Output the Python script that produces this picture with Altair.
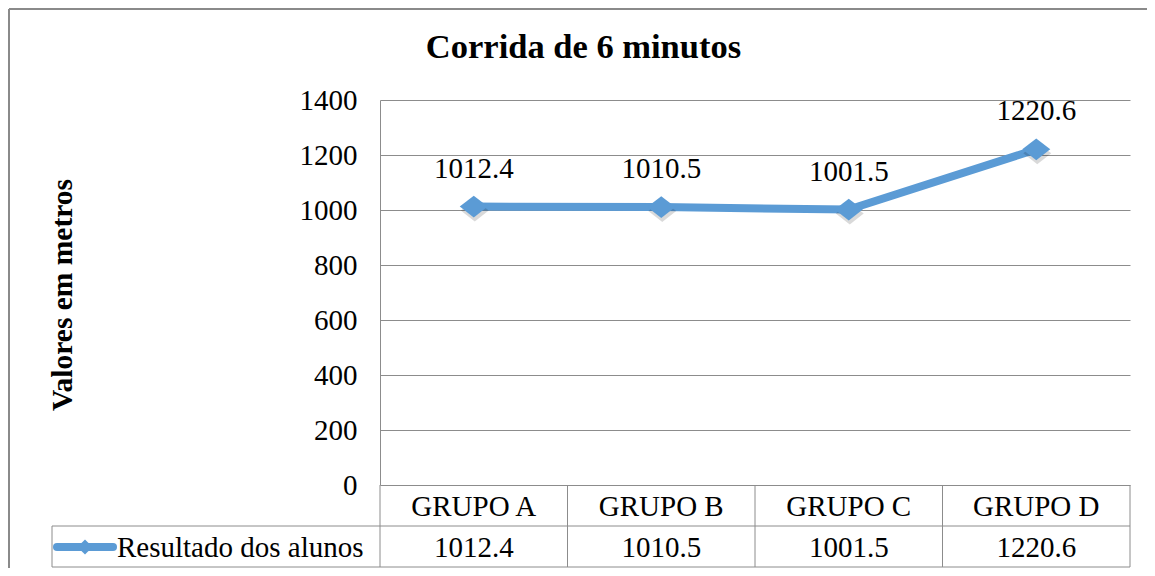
import altair as alt
import pandas as pd

# ---- data ----
title_text = "Corrida de 6 minutos"
y_title = "Valores em metros"
series_name = "Resultado dos alunos"
groups = ["GRUPO A", "GRUPO B", "GRUPO C", "GRUPO D"]
values = [1012.4, 1010.5, 1001.5, 1220.6]
y_ticks = [0, 200, 400, 600, 800, 1000, 1200, 1400]

# ---- style / layout ----
FONT = "Liberation Serif"
BLUE = "#5B9BD5"
GRID = "#8c8c8c"
W, H = 750, 385
ROW1 = 426   # separator between category row and value row (plot coords)
ROW2 = 467   # bottom of table
LEG_LEFT = -328
DIAMOND = "M-1,0L0,-0.78L1,0L0,0.78Z"

df = pd.DataFrame({"grupo": groups, "valor": values})
one = alt.Data(values=[{"k": 0}])

x_enc = alt.X("grupo:N", sort=groups,
              scale=alt.Scale(type="point", padding=0.5), axis=None)
y_scale = alt.Scale(domain=[0, 1400], nice=False)
y_axis = alt.Axis(
    values=y_ticks, format="d", grid=True, gridColor=GRID, gridWidth=1,
    domainColor=GRID, domainWidth=1, ticks=False,
    labelPadding=23, labelFont=FONT, labelFontSize=29, labelColor="black",
    title=y_title, titleFont=FONT, titleFontSize=29.5, titleFontWeight="bold",
    titleColor="black", titleX=-318, titleY=H / 2 + 2, titleAngle=270,
    titleAlign="center", titleBaseline="middle")
y_enc = alt.Y("valor:Q", scale=y_scale, axis=y_axis)

line = alt.Chart(df).mark_line(color=BLUE, strokeWidth=8).encode(
    x=x_enc, y=y_enc)

shadow = alt.Chart(df).mark_point(
    shape=DIAMOND, filled=True, size=784, color="#000000", opacity=0.15,
    xOffset=1, yOffset=4).encode(x=x_enc, y=y_enc)

pts = alt.Chart(df).mark_point(
    shape=DIAMOND, filled=True, size=784, color=BLUE, opacity=1
).encode(x=x_enc, y=y_enc)

labels = alt.Chart(df).mark_text(
    font=FONT, fontSize=29, color="black", baseline="alphabetic", dy=-29
).encode(x=x_enc, y=y_enc, text=alt.Text("valor:Q", format=".1f"))

# ---- data table under the plot ----
cat_row = alt.Chart(df).mark_text(
    font=FONT, fontSize=29, color="black", baseline="alphabetic"
).encode(x=x_enc, y=alt.value(416), text="grupo:N")

val_row = alt.Chart(df).mark_text(
    font=FONT, fontSize=29, color="black", baseline="alphabetic"
).encode(x=x_enc, y=alt.value(457), text=alt.Text("valor:Q", format=".1f"))


def rule(x1, x2, y1, y2, color=GRID, width=1):
    return alt.Chart(one).mark_rule(color=color, strokeWidth=width).encode(
        x=alt.value(x1), x2=alt.value(x2), y=alt.value(y1), y2=alt.value(y2))


rules = [rule(i * W / 4, i * W / 4, H, ROW2) for i in range(5)]
rules += [rule(LEG_LEFT, W, ROW1, ROW1), rule(LEG_LEFT, W, ROW2, ROW2),
          rule(LEG_LEFT, LEG_LEFT, ROW1, ROW2)]
# outer chart border (top and left visible)
rules += [rule(-371, W + 20, -91, -91, color="#8a8a8a", width=2),
          rule(-371, -371, -91, H + 120, color="#8a8a8a", width=2)]

leg_line = alt.Chart(one).mark_rule(
    color=BLUE, strokeWidth=8, strokeCap="round"
).encode(x=alt.value(-323), x2=alt.value(-267), y=alt.value(447))
leg_pt = alt.Chart(one).mark_point(
    shape="diamond", filled=True, size=230, color=BLUE, opacity=1
).encode(x=alt.value(-295), y=alt.value(447))
leg_text = alt.Chart(pd.DataFrame({"s": [series_name]})).mark_text(
    font=FONT, fontSize=29, color="black", align="left", baseline="alphabetic"
).encode(x=alt.value(-263), y=alt.value(457), text="s:N")

title = alt.Chart(pd.DataFrame({"t": [title_text]})).mark_text(
    font=FONT, fontSize=34.5, fontWeight="bold", color="black",
    align="center", baseline="alphabetic"
).encode(x=alt.value(203.5), y=alt.value(-42.5), text="t:N")

chart = alt.layer(
    line, shadow, pts, labels, cat_row, val_row,
    *rules, leg_line, leg_pt, leg_text, title
).properties(
    width=W, height=H,
    autosize=alt.AutoSizeParams(type="none"),
    padding={"left": 372, "top": 92, "right": 17, "bottom": 83},
    background="white",
).configure_view(stroke=None)

chart.save("out.html", embed_options={"renderer": "svg", "actions": False})
